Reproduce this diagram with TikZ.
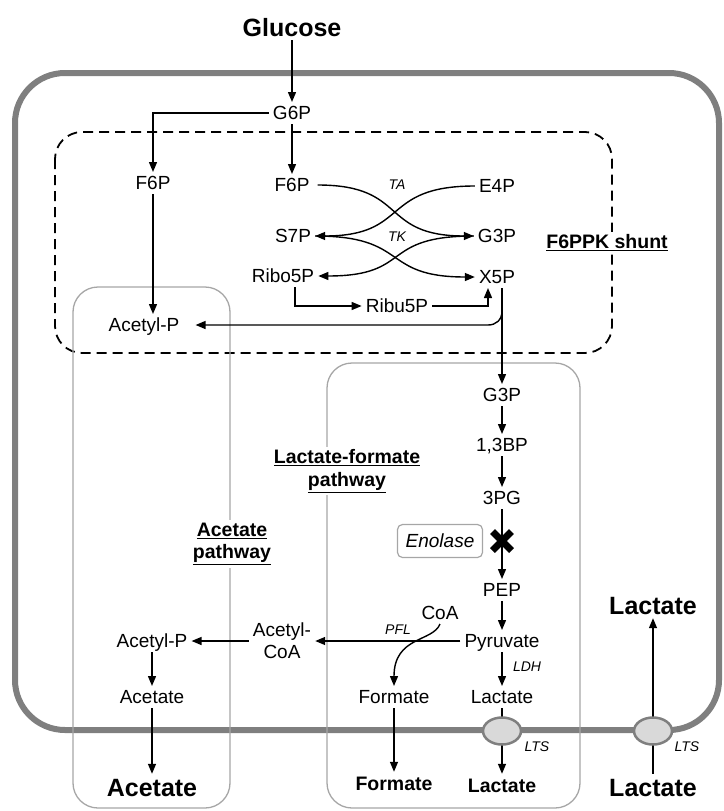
\documentclass[tikz,border=0pt]{standalone}
\usepackage{fontspec}
\setmainfont{Liberation Sans}
\usetikzlibrary{arrows.meta,shapes.geometric,calc}
\definecolor{cellgray}{HTML}{7F7F7F}
\definecolor{boxgray}{HTML}{A6A6A6}
\definecolor{ellgray}{HTML}{D9D9D9}
\begin{document}
\begin{tikzpicture}[x=1pt,y=-1pt,
  lbl/.style={inner sep=4pt, font=\fontsize{19}{22}\selectfont, text height=13.6pt, text depth=0pt},
  lbltwo/.style={inner sep=4pt, font=\fontsize{19}{22}\selectfont, align=center},
  big/.style={inner sep=4pt, font=\fontsize{25}{28}\selectfont\bfseries, text height=18pt, text depth=0pt},
  mid/.style={inner sep=4pt, font=\fontsize{19.5}{22}\selectfont\bfseries, text height=14pt, text depth=0pt},
  enz/.style={inner sep=2pt, font=\fontsize{14}{16}\selectfont\itshape},
  ptitle/.style={font=\fontsize{19.5}{22.5}\selectfont\bfseries, align=center, fill=white, inner sep=3pt},
  arr/.style={line width=1.4pt, -{Triangle[length=10pt,width=8pt]}},
  cellbox/.style={line width=6pt, draw=cellgray, rounded corners=50pt},
  pbox/.style={line width=1.3pt, draw=boxgray, rounded corners=25pt},
  shuntbox/.style={line width=1.8pt, dash pattern=on 10pt off 6pt, rounded corners=27pt},
  memb/.style={ellipse, draw=cellgray, line width=2.5pt, fill=ellgray, minimum width=38pt, minimum height=27pt, inner sep=0pt}
]
\useasboundingbox (0,0) rectangle (723,811);

% compartments
\draw[cellbox] (15,73) rectangle (719,730);
\draw[shuntbox] (55,132) rectangle (612,353);
\draw[pbox] (73,287) rectangle (230,808);
\draw[pbox] (327,363) rectangle (580,808);

% pathway titles
\node[ptitle] (shlab) at (607,243) {\underline{F6PPK shunt}};
\node[ptitle] (aplab) at (232,544) {\underline{Acetate}\\\underline{pathway}};
\node[ptitle] (lflab) at (347,471) {\underline{Lactate-formate}\\\underline{pathway}};

% metabolites
\node[big] (glc) at (292,27) {Glucose};
\node[lbl] (g6p) at (292,113) {G6P};
\node[lbl] (f6pl) at (153,183) {F6P};
\node[lbl] (f6pm) at (292,185) {F6P};
\node[lbl] (e4p) at (497,186) {E4P};
\node[lbl] (s7p) at (293,236) {S7P};
\node[lbl] (g3pa) at (497,236) {G3P};
\node[lbl] (ribo) at (283,276) {Ribo5P};
\node[lbl] (x5p) at (497,277) {X5P};
\node[lbl] (ribu) at (397,306) {Ribu5P};
\node[lbl] (acpa) at (144,325) {Acetyl-P};
\node[enz] (ta) at (397,185) {TA};
\node[enz] (tk) at (397,237) {TK};

\node[lbl] (g3pb) at (502,395) {G3P};
\node[lbl] (bp) at (502,445) {1,3BP};
\node[lbl] (pg) at (502,498) {3PG};
\node[lbl] (pep) at (502,590) {PEP};
\node[lbl] (pyr) at (502,641) {Pyruvate};
\node[lbl] (lacin) at (502,697) {Lactate};
\node[mid] (lacout) at (502,785) {Lactate};
\node[enz] (ldh) at (527,667) {LDH};
\node[lbl] (coa) at (440,613) {CoA};
\node[enz] (pfl) at (398,630) {PFL};
\node[lbltwo] (accoa) at (282,641) {Acetyl-\\CoA};
\node[lbl] (acpb) at (152,641) {Acetyl-P};
\node[lbl] (acet) at (152,697) {Acetate};
\node[big] (acetout) at (152,787) {Acetate};
\node[lbl] (form) at (394,697) {Formate};
\node[mid] (formout) at (394,783) {Formate};
\node[big] (lactop) at (653,605) {Lactate};
\node[big] (lacbot) at (653,787) {Lactate};

\node[draw=boxgray, line width=1.2pt, rounded corners=5pt,
      font=\fontsize{19}{22}\selectfont\itshape, minimum width=85pt,
      minimum height=33pt, inner sep=2pt] (eno) at (440,541) {Enolase};

% connectors: upper part
\draw[arr] (glc) -- (g6p);
\draw[arr] (g6p.west) -| (f6pl.north);
\draw[arr] (g6p) -- (f6pm);
\draw[arr] (f6pl) -- (f6pl |- acpa.north);
\draw[arr, shorten <=4pt] (f6pm.east) .. controls +(95,0) and +(-95,0) .. (g3pa.west);
\draw[arr] (e4p.west) .. controls +(-95,0) and +(95,0) .. (s7p.east);
\draw[arr] (s7p.east) .. controls +(95,0) and +(-95,0) .. (x5p.west);
\draw[arr] (g3pa.west) .. controls +(-95,0) and +(95,0) .. (ribo.east);
\draw[arr] ($(ribo.south)+(12,0)$) |- (ribu.west);
\draw[arr] (ribu.east) -| ($(x5p.south)+(-9,0)$);
\draw[arr] (x5p.south -| g3pb.north) -- (g3pb.north);
\draw[arr, shorten >=12pt] (x5p.south -| g3pb.north) -- ++(0,23)
   .. controls +(0,9) and +(8,0) .. ++(-14,14) -- (acpa.east);

% glycolysis chain
\draw[arr] (g3pb) -- (bp);
\draw[arr] (bp) -- (pg);
\draw[arr] (pg) -- (pep);
\draw[arr] (pep) -- (pyr);
\draw[arr] (pyr) -- (lacin);
\draw[arr] (lacin) -- (lacout);

% acetate / formate
\draw[arr] (pyr.west) -- (pyr.west -| accoa.east);
\draw[arr] (accoa.west |- acpb.east) -- (acpb.east);
\draw[arr] (acpb) -- (acet);
\draw[arr] (acet) -- (acetout);
\draw[arr] (coa.south) .. controls +(-7,18) and +(0,-50) .. (form.north);
\draw[arr] (form) -- (formout);
\draw[arr] (lacbot) -- (lactop);

% enolase block
\coordinate (blk) at (pg |- eno);
\draw[line width=7pt] ($(blk)+(-9.5,-9.5)$) -- ($(blk)+(9.5,9.5)$)
                      ($(blk)+(9.5,-9.5)$) -- ($(blk)+(-9.5,9.5)$);

% transporters
\node[memb] (lts1) at (502,731) {};
\node[memb] (lts2) at (653,731) {};
\node[enz] (lts1lab) at (537,747) {LTS};
\node[enz] (lts2lab) at (687,747) {LTS};
\end{tikzpicture}
\end{document}
